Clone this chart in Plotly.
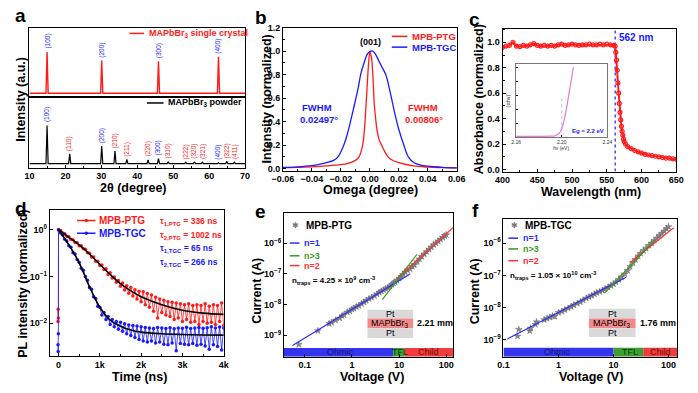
import plotly.graph_objects as go

W, H = 698, 393
FONT = "Arial, Liberation Sans, Helvetica, sans-serif"
RED, BLUE, GREEN = "#ff1a1a", "#1a1aff", "#3c9a1e"

# ---------------- (a) XRD ----------------
xrd_sc_pos = [14.9, 30.1, 45.9, 62.6]
xrd_sc_int = [64.8, 52.5, 51.5, 58.0]
xrd_sc_hkl = ["(100)", "(200)", "(300)", "(400)"]
xrd_pw_pos = [14.9, 21.2, 30.1, 33.8, 37.1, 43.0, 45.9, 48.6, 53.5, 55.9, 58.1, 62.6, 64.9, 67.0]
xrd_pw_int = [59.7, 19.4, 30.6, 23.6, 11.5, 11.1, 12.9, 8.3, 7.6, 8.3, 7.6, 6.9, 9.0, 7.6]
xrd_pw_hkl = ["(100)", "(110)", "(200)", "(210)", "(211)", "(220)", "(300)", "(310)",
              "(222)", "(320)", "(321)", "(400)", "(322)", "(411)"]
xrd_pw_h00 = [1, 0, 1, 0, 0, 0, 1, 0, 0, 0, 0, 1, 0, 0]
xrd_base = 5.6

# ---------------- (b) rocking curves ----------------
omega_ptg = [-0.06, -0.05, -0.04, -0.03, -0.02, -0.015, -0.01, -0.0075, -0.005, -0.004, -0.003,
             -0.002, -0.001, 0.0, 0.001, 0.002, 0.003, 0.004, 0.005, 0.0065, 0.008, 0.01, 0.0125,
             0.015, 0.02, 0.03, 0.04, 0.05, 0.06]
int_ptg = [0.008, 0.01, 0.015, 0.022, 0.033, 0.045, 0.07, 0.1, 0.2, 0.3, 0.47,
           0.68, 0.88, 0.99, 0.95, 0.8, 0.55, 0.42, 0.32, 0.24, 0.2, 0.15, 0.1,
           0.075, 0.05, 0.022, 0.012, 0.008, 0.005]
omega_tgc = [-0.06, -0.05, -0.04, -0.035, -0.03, -0.025, -0.022, -0.018, -0.015, -0.0115, -0.008,
             -0.0064, -0.004, -0.002, 0.0, 0.002, 0.004, 0.006, 0.008, 0.0109, 0.014, 0.0166,
             0.02, 0.0234, 0.0265, 0.0305, 0.035, 0.04, 0.05, 0.06]
int_tgc = [0.01, 0.015, 0.025, 0.035, 0.05, 0.07, 0.1, 0.2, 0.32, 0.5, 0.69,
           0.8, 0.9, 0.97, 0.995, 1.0, 0.97, 0.92, 0.87, 0.8, 0.65, 0.5,
           0.33, 0.2, 0.1, 0.05, 0.03, 0.02, 0.01, 0.005]

# ---------------- (c) absorbance ----------------
wl = [400, 405, 410, 415, 420, 425, 430, 435, 440, 445, 450, 455, 460, 465, 470, 475, 480, 485,
      490, 495, 500, 505, 510, 515, 520, 525, 530, 535, 540, 545, 550, 555, 560, 562, 563, 564,
      565, 566, 567, 568, 569, 570, 571, 572, 573, 574, 575, 577, 580, 585, 590, 595, 600, 605,
      610, 615, 620, 625, 630, 635, 640, 645, 650]
absb = [0.96, 0.97, 0.975, 1.0, 0.97, 0.965, 0.975, 0.97, 0.98, 0.99, 0.975, 0.97, 0.975, 0.97,
        0.975, 0.97, 0.98, 0.985, 0.975, 0.98, 0.985, 0.98, 0.975, 0.98, 0.98, 0.985, 0.98, 0.98,
        0.985, 0.98, 0.985, 0.98, 0.975, 0.97, 0.92, 0.86, 0.78, 0.68, 0.6, 0.52, 0.45, 0.39,
        0.34, 0.3, 0.27, 0.24, 0.22, 0.2, 0.18, 0.165, 0.15, 0.14, 0.13, 0.12, 0.115, 0.11,
        0.105, 0.1, 0.095, 0.09, 0.09, 0.085, 0.08]
edge_nm = 562
tauc_hv = [2.160, 2.170, 2.180, 2.190, 2.194, 2.1983, 2.2011, 2.204, 2.2068, 2.2091, 2.2102]
tauc_y = [0.012, 0.012, 0.013, 0.015, 0.02, 0.067, 0.18, 0.4, 0.67, 0.89, 1.0]
eg_ev = 2.20

# ---------------- (d) TRPL ----------------
t_pre = [-12, -8, -4]
t_grid = list(range(0, 4001, 50))
pl_ptg = [0.011, 0.02, 0.013,
          1.0, 0.95, 0.84, 0.81, 0.72, 0.70, 0.61, 0.60, 0.53, 0.52, 0.45, 0.45, 0.39, 0.38, 0.32,
          0.31, 0.26, 0.26, 0.21, 0.21, 0.17, 0.175, 0.14, 0.145, 0.11, 0.12, 0.092, 0.097, 0.075,
          0.082, 0.062, 0.072, 0.051, 0.063, 0.044, 0.058, 0.038, 0.052, 0.033, 0.048, 0.029, 0.047,
          0.025, 0.043, 0.022, 0.04, 0.018, 0.036, 0.013, 0.033, 0.017, 0.031, 0.015, 0.029, 0.014,
          0.028, 0.012, 0.027, 0.013, 0.026, 0.011, 0.025, 0.012, 0.026, 0.0105, 0.024, 0.011,
          0.025, 0.0095, 0.024, 0.011, 0.026, 0.01, 0.023, 0.0105, 0.025, 0.0095, 0.024, 0.011,
          0.027, 0.009]
pl_tgc = [0.0035, 0.0025, 0.006,
          0.97, 0.84, 0.76, 0.62, 0.57, 0.45, 0.42, 0.32, 0.30, 0.23, 0.20, 0.15, 0.135, 0.10,
          0.083, 0.058, 0.053, 0.037, 0.034, 0.023, 0.022, 0.015, 0.017, 0.012, 0.014, 0.0095,
          0.012, 0.0085, 0.011, 0.0075, 0.0105, 0.0068, 0.0098, 0.006, 0.0092, 0.0055, 0.009,
          0.005, 0.0088, 0.0045, 0.0085, 0.0042, 0.0082, 0.004, 0.008, 0.0042, 0.0078, 0.0038,
          0.0082, 0.004, 0.008, 0.0036, 0.0078, 0.0035, 0.0081, 0.0038, 0.0077, 0.0026, 0.008,
          0.0037, 0.0079, 0.0036, 0.0083, 0.0035, 0.0078, 0.0037, 0.008, 0.0034, 0.0082, 0.0036,
          0.0079, 0.0033, 0.0081, 0.0028, 0.0085, 0.0035, 0.008, 0.0032, 0.0084, 0.0027, 0.008]
fit_t_ptg = [0, 250, 500, 750, 1000, 1250, 1500, 1750, 2000, 2500, 3000, 3500, 4000]
fit_ptg = [1.0, 0.68, 0.47, 0.30, 0.18, 0.11, 0.07, 0.049, 0.037, 0.025, 0.019, 0.0165, 0.0155]
fit_t_tgc = [0, 100, 250, 500, 750, 1000, 1250, 1500, 1750, 2000, 2500, 3000, 4000]
fit_tgc = [1.0, 0.74, 0.47, 0.195, 0.06, 0.022, 0.0117, 0.0087, 0.0072, 0.0065, 0.006, 0.0058, 0.0056]

# ---------------- (e) SCLC MPB-PTG ----------------
v_ptg = [0.075, 0.19, 0.33, 0.37, 0.45, 0.55, 0.62, 0.68, 0.8, 0.9, 1.0, 1.1, 1.25, 1.4, 1.6,
         1.8, 2.0, 2.3, 2.6, 3.0, 3.4, 3.8, 4.2, 4.7, 5.2, 5.8, 6.4, 7.0, 7.6, 8.2, 9.0, 10, 11,
         12, 13.5, 15, 17, 19, 21, 24, 27, 30, 34, 38, 43, 48, 54, 60, 67, 75, 84, 93, 100]
i_ptg = [5.0e-10, 1.4e-9, 2.4e-9, 2.6e-9, 3.1e-9, 3.6e-9, 4.3e-9, 4.6e-9, 5.7e-9, 6.1e-9, 7.0e-9,
         7.5e-9, 8.5e-9, 9.3e-9, 1.07e-8, 1.2e-8, 1.35e-8, 1.55e-8, 1.7e-8, 1.95e-8, 2.2e-8,
         2.5e-8, 2.75e-8, 3.0e-8, 3.3e-8, 3.6e-8, 4.0e-8, 4.5e-8, 5.0e-8, 5.5e-8, 6.2e-8, 7.2e-8,
         8.3e-8, 9.6e-8, 1.15e-7, 1.35e-7, 1.45e-7, 1.75e-7, 1.97e-7, 2.5e-7, 3.08e-7, 3.7e-7,
         4.46e-7, 5.3e-7, 6.4e-7, 7.5e-7, 9.0e-7, 1.02e-6, 1.17e-6, 1.35e-6, 1.55e-6, 1.76e-6, 1.9e-6]
fit1_ptg_v, fit1_ptg_i = [0.055, 17], [4.6e-10, 1.0e-7]
fit3_ptg_v, fit3_ptg_i = [4.4, 24], [1.45e-8, 4.4e-7]
fit2_ptg_v, fit2_ptg_i = [9.0, 140], [7.0e-8, 3.3e-6]
regions_ptg_v = [0.0363, 7.45, 13.0, 138]
ntrap_ptg = "4.25 × 10<sup>9</sup>"
thick_ptg = "2.21 mm"

# ---------------- (f) SCLC MPB-TGC ----------------
v_tgc = [0.18, 0.19, 0.3, 0.31, 0.38, 0.4, 0.55, 0.62, 0.7, 0.78, 0.85, 1.0, 1.15, 1.3, 1.5,
         1.7, 1.9, 2.2, 2.5, 2.8, 3.2, 3.6, 4.0, 4.5, 5.0, 5.6, 6.3, 7.0, 8.0, 9.0, 10, 11, 12.5,
         14, 16, 18, 20, 22.5, 25, 28, 31, 35, 39, 44, 49, 55, 61, 68, 75, 83, 92, 100]
i_tgc = [1.3e-9, 2.1e-9, 1.9e-9, 2.3e-9, 3.0e-9, 3.6e-9, 4.2e-9, 4.6e-9, 5.0e-9, 5.5e-9, 5.3e-9,
         7.0e-9, 7.6e-9, 8.5e-9, 9.6e-9, 1.07e-8, 1.2e-8, 1.35e-8, 1.5e-8, 1.7e-8, 1.95e-8, 2.15e-8,
         2.35e-8, 2.6e-8, 2.9e-8, 3.1e-8, 3.4e-8, 3.8e-8, 4.3e-8, 4.8e-8, 5.4e-8, 6.2e-8, 7.4e-8,
         9.0e-8, 1.1e-7, 1.4e-7, 1.87e-7, 2.44e-7, 3.08e-7, 3.98e-7, 4.79e-7, 5.81e-7, 6.9e-7,
         8.4e-7, 9.97e-7, 1.2e-6, 1.42e-6, 1.7e-6, 2.0e-6, 2.37e-6, 2.8e-6, 3.2e-6]
fit1_tgc_v, fit1_tgc_i = [0.118, 17], [1.07e-9, 8.7e-8]
fit3_tgc_v, fit3_tgc_i = [6.9, 55], [2.8e-8, 1.2e-6]
fit2_tgc_v, fit2_tgc_i = [20, 124], [2.5e-7, 3.0e-6]
regions_tgc_v = [0.1, 10, 34.6, 144]
ntrap_tgc = "1.05 × 10<sup>10</sup>"
thick_tgc = "1.76 mm"

region_names = ["Ohmic", "TFL", "Child"]
region_fill = ["#3535f0", "#3c9e32", "#f03c3c"]
region_text = ["#14146e", "#0e3a0e", "#6e0e0e"]

# ================= figure =================
fig = go.Figure()


def X(p):
    return p / W


def Y(p):
    return 1 - p / H


axstyle = dict(showline=True, linecolor="black", linewidth=1, mirror=True, ticks="inside",
               ticklen=3, tickcolor="black", showgrid=False, zeroline=False,
               tickfont=dict(family=FONT, size=9, color="black", weight="bold"))


def xax(l, r, anchor, **kw):
    d = dict(axstyle)
    d.update(domain=[X(l), X(r)], anchor=anchor)
    d.update(kw)
    return d


def yax(t, b, anchor, **kw):
    d = dict(axstyle)
    d.update(domain=[Y(b), Y(t)], anchor=anchor)
    d.update(kw)
    return d


sup = lambda n: "10<sup>%s</sup>" % n.replace("-", "−")

layout_axes = dict(
    # a top / a bottom
    xaxis=xax(19, 241, "y", range=[10, 70], dtick=10, showticklabels=False, ticks=""),
    yaxis=yax(23, 94, "x", range=[0, 100], showticklabels=False, ticks=""),
    xaxis2=xax(19, 241, "y2", range=[10, 70], dtick=10,
               minor=dict(ticks="inside", ticklen=2, dtick=5, tickcolor="black")),
    yaxis2=yax(94, 166, "x2", range=[0, 100], showticklabels=False, ticks=""),
    # b
    xaxis3=xax(280, 459, "y3", range=[-0.06, 0.06], dtick=0.02, tickformat=".2f",
               minor=dict(ticks="inside", ticklen=2, dtick=0.01, tickcolor="black")),
    yaxis3=yax(23, 169, "x3", range=[-0.017, 1.2], dtick=0.2, tickformat=".1f",
               minor=dict(ticks="inside", ticklen=2, dtick=0.1, tickcolor="black")),
    # c
    xaxis4=xax(506, 685, "y4", range=[400, 650], dtick=50,
               minor=dict(ticks="inside", ticklen=2, dtick=25, tickcolor="black")),
    yaxis4=yax(24, 170, "x4", range=[-0.015, 1.108], dtick=0.2, tickformat=".1f",
               minor=dict(ticks="inside", ticklen=2, dtick=0.1, tickcolor="black")),
    # c inset
    xaxis5=xax(520, 614, "y5", range=[2.16, 2.24], tickvals=[2.16, 2.20, 2.24],
               ticktext=["2.16", "2.20", "2.24"], linecolor="#777", ticklen=2,
               tickfont=dict(family=FONT, size=5, color="#333")),
    yaxis5=yax(60, 135, "x5", range=[0, 1.05], showticklabels=False, dtick=0.2,
               linecolor="#777", ticklen=2),
    # d
    xaxis6=xax(40, 219, "y6", range=[-210, 4000], tickvals=[0, 1000, 2000, 3000, 4000],
               ticktext=["0", "1k", "2k", "3k", "4k"],
               minor=dict(ticks="inside", ticklen=2, dtick=500, tickcolor="black")),
    yaxis6=yax(209, 358, "x6", type="log", range=[-2.69, 0.42], tickvals=[1, 0.1, 0.01],
               ticktext=[sup("0"), sup("-1"), sup("-2")]),
    # e
    xaxis7=xax(281, 455, "y7", type="log", range=[-1.44, 2.14], tickvals=[0.1, 1, 10, 100],
               ticktext=["0.1", "1", "10", "100"]),
    yaxis7=yax(212, 359, "x7", type="log", range=[-9.7, -5.0],
               tickvals=[1e-9, 1e-8, 1e-7, 1e-6], ticktext=[sup("-9"), sup("-8"), sup("-7"), sup("-6")]),
    # f
    xaxis8=xax(507, 686, "y8", type="log", range=[-1.0, 2.16], tickvals=[0.1, 1, 10, 100],
               ticktext=["0.1", "1", "10", "100"]),
    yaxis8=yax(218, 359, "x8", type="log", range=[-9.52, -5.24],
               tickvals=[1e-9, 1e-8, 1e-7, 1e-6], ticktext=[sup("-9"), sup("-8"), sup("-7"), sup("-6")]),
)


def sticks(pos, hts, base, lo=10, hi=70, hw=0.3):
    xs, ys = [lo], [base]
    for p, h in sorted(zip(pos, hts)):
        xs += [p - hw, p, p + hw]
        ys += [base, h, base]
    xs.append(hi)
    ys.append(base)
    return xs, ys


def tr(**kw):
    d = dict(showlegend=False, hoverinfo="skip")
    d.update(kw)
    fig.add_trace(go.Scatter(**d))


# (a)
sx, sy = sticks(xrd_sc_pos, xrd_sc_int, xrd_base)
tr(x=sx, y=sy, mode="lines", line=dict(color=RED, width=1.4), xaxis="x", yaxis="y")
px_, py_ = sticks(xrd_pw_pos, xrd_pw_int, xrd_base)
tr(x=px_, y=py_, mode="lines", line=dict(color="black", width=1.2), xaxis="x2", yaxis="y2")

# (b)
tr(x=omega_ptg, y=int_ptg, mode="lines", line=dict(color=RED, width=1.3, shape="spline"),
   xaxis="x3", yaxis="y3")
tr(x=omega_tgc, y=int_tgc, mode="lines", line=dict(color=BLUE, width=1.3, shape="spline"),
   xaxis="x3", yaxis="y3")

# (c)
tr(x=[edge_nm, edge_nm], y=[-0.015, 1.108], mode="lines",
   line=dict(color=BLUE, width=1.2, dash="dot"), xaxis="x4", yaxis="y4")
tr(x=wl, y=absb, mode="lines+markers", line=dict(color=RED, width=2),
   marker=dict(color=RED, size=4, symbol="circle-open", line=dict(width=1.2, color=RED)),
   xaxis="x4", yaxis="y4")
tr(x=[eg_ev, eg_ev], y=[0, 0.55], mode="lines", line=dict(color="#8fa8ff", width=0.8, dash="dot"),
   xaxis="x5", yaxis="y5")
tr(x=tauc_hv, y=tauc_y, mode="lines", line=dict(color="#e27bd6", width=1.2, shape="spline"),
   xaxis="x5", yaxis="y5")

# (d)
tr(x=t_pre + t_grid, y=pl_ptg, mode="lines+markers", line=dict(color=RED, width=0.8),
   marker=dict(color=RED, size=3.5), xaxis="x6", yaxis="y6")
tr(x=t_pre + t_grid, y=pl_tgc, mode="lines+markers", line=dict(color=BLUE, width=0.8),
   marker=dict(color=BLUE, size=3.5), xaxis="x6", yaxis="y6")
tr(x=fit_t_ptg, y=fit_ptg, mode="lines", line=dict(color="black", width=1.6, shape="spline"),
   xaxis="x6", yaxis="y6")
tr(x=fit_t_tgc, y=fit_tgc, mode="lines", line=dict(color="black", width=1.6, shape="spline"),
   xaxis="x6", yaxis="y6")


# (e) & (f)
def sclc(xa, ya, v, i, f1, f3, f2, regions, ybar):
    for k in range(3):
        x0, x1 = regions[k], regions[k + 1]
        tr(x=[x0, x1, x1, x0, x0], y=[ybar[0], ybar[0], ybar[1], ybar[1], ybar[0]],
           mode="lines", fill="toself", fillcolor=region_fill[k], line=dict(width=0),
           xaxis=xa, yaxis=ya)
    tr(x=v, y=i, mode="markers", marker=dict(symbol="star", size=5, color="#8c8c8c",
                                             line=dict(width=0.4, color="#555")),
       xaxis=xa, yaxis=ya)
    tr(x=f1[0], y=f1[1], mode="lines", line=dict(color="#2b2bff", width=1.2), xaxis=xa, yaxis=ya)
    tr(x=f2[0], y=f2[1], mode="lines", line=dict(color="#ff3030", width=1.2), xaxis=xa, yaxis=ya)
    tr(x=f3[0], y=f3[1], mode="lines", line=dict(color=GREEN, width=1.2), xaxis=xa, yaxis=ya)


sclc("x7", "y7", v_ptg, i_ptg, (fit1_ptg_v, fit1_ptg_i), (fit3_ptg_v, fit3_ptg_i),
     (fit2_ptg_v, fit2_ptg_i), regions_ptg_v, [2.0e-10, 3.85e-10])
sclc("x8", "y8", v_tgc, i_tgc, (fit1_tgc_v, fit1_tgc_i), (fit3_tgc_v, fit3_tgc_i),
     (fit2_tgc_v, fit2_tgc_i), regions_tgc_v, [3.02e-10, 5.7e-10])

# ================= annotations / decorations =================
ann = []
shapes = []


def txt(x, y, s, size=9, color="black", bold=True, xa="center", ya="middle", angle=0):
    ann.append(dict(x=X(x), y=Y(y), xref="paper", yref="paper",
                    text=("<b>%s</b>" % s) if bold else s, showarrow=False,
                    font=dict(family=FONT, size=size, color=color),
                    xanchor=xa, yanchor=ya, textangle=angle))


def seg(x0, x1, y, color, width=1.5):
    shapes.append(dict(type="line", xref="paper", yref="paper", x0=X(x0), x1=X(x1),
                       y0=Y(y), y1=Y(y), line=dict(color=color, width=width)))


def dot(x, y, color, r=1.8):
    shapes.append(dict(type="circle", xref="paper", yref="paper", x0=X(x - r), x1=X(x + r),
                       y0=Y(y + r), y1=Y(y - r), line=dict(width=0), fillcolor=color))


def rect(x0, x1, y0, y1, color):
    shapes.append(dict(type="rect", xref="paper", yref="paper", x0=X(x0), x1=X(x1),
                       y0=Y(y1), y1=Y(y0), line=dict(width=0), fillcolor=color, layer="above"))


# panel letters
for (lx, ly, s) in [(10, 11, "a"), (257, 13, "b"), (477, 15, "c"),
                    (10, 208, "d"), (257, 211, "e"), (478, 210, "f")]:
    txt(lx, ly, s, size=19)

# axis titles
TS = 12.5
txt(10, 96, "Intensity (a.u.)", size=TS, angle=-90)
txt(126, 187, "2θ (degree)", size=TS)
txt(264, 96, "Intensity (normalized)", size=TS, angle=-90)
txt(370, 189, "Omega (degree)", size=TS)
txt(482, 96, "Absorbance (normalized)", size=TS, angle=-90)
txt(597, 191, "Wavelength (nm)", size=TS)
txt(13, 285, "PL intensity (normalized)", size=TS, angle=-90)
txt(132, 380, "Time (ns)", size=TS)
txt(253, 292, "Current (A)", size=TS, angle=-90)
txt(372, 380, "Voltage (V)", size=TS)
txt(478, 292, "Current (A)", size=TS, angle=-90)
txt(597, 380, "Voltage (V)", size=TS)

# (a) legends and hkl labels
seg(122, 137, 29, RED)
txt(140, 29, "MAPbBr<sub>3</sub> single crystal", size=9, color=RED, xa="left")
seg(140, 157, 100, "black")
txt(160, 100, "MAPbBr<sub>3</sub> powder", size=9, color="black", xa="left")
for p, h, s in zip(xrd_sc_pos, xrd_sc_int, xrd_sc_hkl):
    ann.append(dict(x=p, y=h, xref="x", yref="y", text=s, showarrow=False, textangle=-90,
                    yanchor="bottom", xanchor="center", yshift=1,
                    font=dict(family=FONT, size=6.5, color=BLUE)))
for p, h, s, m in zip(xrd_pw_pos, xrd_pw_int, xrd_pw_hkl, xrd_pw_h00):
    ann.append(dict(x=p, y=h, xref="x2", yref="y2", text=s, showarrow=False, textangle=-90,
                    yanchor="bottom", xanchor="center", yshift=1,
                    font=dict(family=FONT, size=6.5, color=BLUE if m else RED)))

# (b)
seg(392, 408, 32, RED)
txt(411, 32, "MPB-PTG", size=9.5, color=RED, xa="left")
seg(392, 408, 43, BLUE)
txt(411, 43, "MPB-TGC", size=9.5, color=BLUE, xa="left")
txt(370, 38, "(001)", size=9)
txt(315, 105, "FWHM", size=9.5, color=BLUE)
txt(317, 117, "0.02497°", size=9.5, color=BLUE)
txt(424, 105, "FWHM", size=9.5, color=RED)
txt(425, 117, "0.00806°", size=9.5, color=RED)

# (c)
txt(624, 33, "562 nm", size=10, color=BLUE, xa="left")
txt(575, 129, "Eg = 2.2 eV", size=6, color=BLUE, xa="left")
txt(511, 97, "(αhν)<sup>2</sup>", size=5.5, bold=False, angle=-90, color="#333")
txt(566, 146, "<i>h</i>ν (eV)", size=5, bold=False, color="#333")

# (d)
seg(68, 87, 220, RED, 1.5)
dot(77.5, 220, RED)
seg(68, 87, 233, BLUE, 1.5)
dot(77.5, 233, BLUE)
txt(89, 220, "MPB-PTG", size=10, color=RED, xa="left")
txt(89, 233, "MPB-TGC", size=10, color=BLUE, xa="left")
txt(151, 221, "τ<sub>1,PTG</sub> = 336 ns", size=8.5, color=RED, xa="left")
txt(151, 235, "τ<sub>2,PTG</sub> = 1002 ns", size=8.5, color=RED, xa="left")
txt(151, 249, "τ<sub>1,TGC</sub> = 65 ns", size=8.5, color=BLUE, xa="left")
txt(151, 263, "τ<sub>2,TGC</sub> = 266 ns", size=8.5, color=BLUE, xa="left")


# (e)/(f) legends, boxes
def sclc_deco(ox, ystar, yl, name, ntr, thick, box, bar_y, reg_cx):
    txt(ox + 6, ystar, "✱", size=8, color="#777", bold=False)
    txt(ox + 15, ystar, name, size=10, xa="left")
    for (yy, col, lab) in zip(yl, ["#2b2bff", GREEN, "#ff3030"], ["n=1", "n>3", "n=2"]):
        seg(ox, ox + 10, yy, col, 1.5)
        txt(ox + 13, yy, lab, size=9, color=col, xa="left")
    txt(ox, yl[2] + 15, "n<sub>traps</sub> = %s cm<sup>-3</sup>" % ntr, size=8, xa="left")
    bx0, bx1, t0, t1, t2, t3 = box
    rect(bx0, bx1, t0, t1, "#d9d9d9")
    rect(bx0, bx1, t1, t2, "#f28a8a")
    rect(bx0, bx1, t2, t3, "#d9d9d9")
    cx = (bx0 + bx1) / 2
    txt(cx, (t0 + t1) / 2, "Pt", size=9, bold=False)
    txt(cx, (t1 + t2) / 2, "MAPbBr<sub>3</sub>", size=9, bold=False)
    txt(cx, (t2 + t3) / 2, "Pt", size=9, bold=False)
    txt(bx1 + 2, (t1 + t2) / 2, thick, size=9, xa="left")
    for c, lab, col in zip(reg_cx, region_names, region_text):
        txt(c, bar_y, lab, size=9, color=col, bold=False)


sclc_deco(287, 225, [243, 256, 266], "MPB-PTG", ntrap_ptg, thick_ptg,
          (367, 414, 311, 320, 330, 340), 354, [339, 400, 430])
sclc_deco(512, 225, [238, 249, 261], "MPB-TGC", ntrap_tgc, thick_tgc,
          (595, 643, 310, 320, 330, 339), 354, [563, 637, 669])

fig.update_layout(width=W, height=H, margin=dict(l=0, r=0, t=0, b=0),
                  paper_bgcolor="white", plot_bgcolor="white",
                  font=dict(family=FONT, color="black"),
                  annotations=ann, shapes=shapes, showlegend=False, **layout_axes)
fig.write_html("out.html", config={"displayModeBar": False},
               post_script="document.body.style.margin='0';document.body.style.padding='0';")
